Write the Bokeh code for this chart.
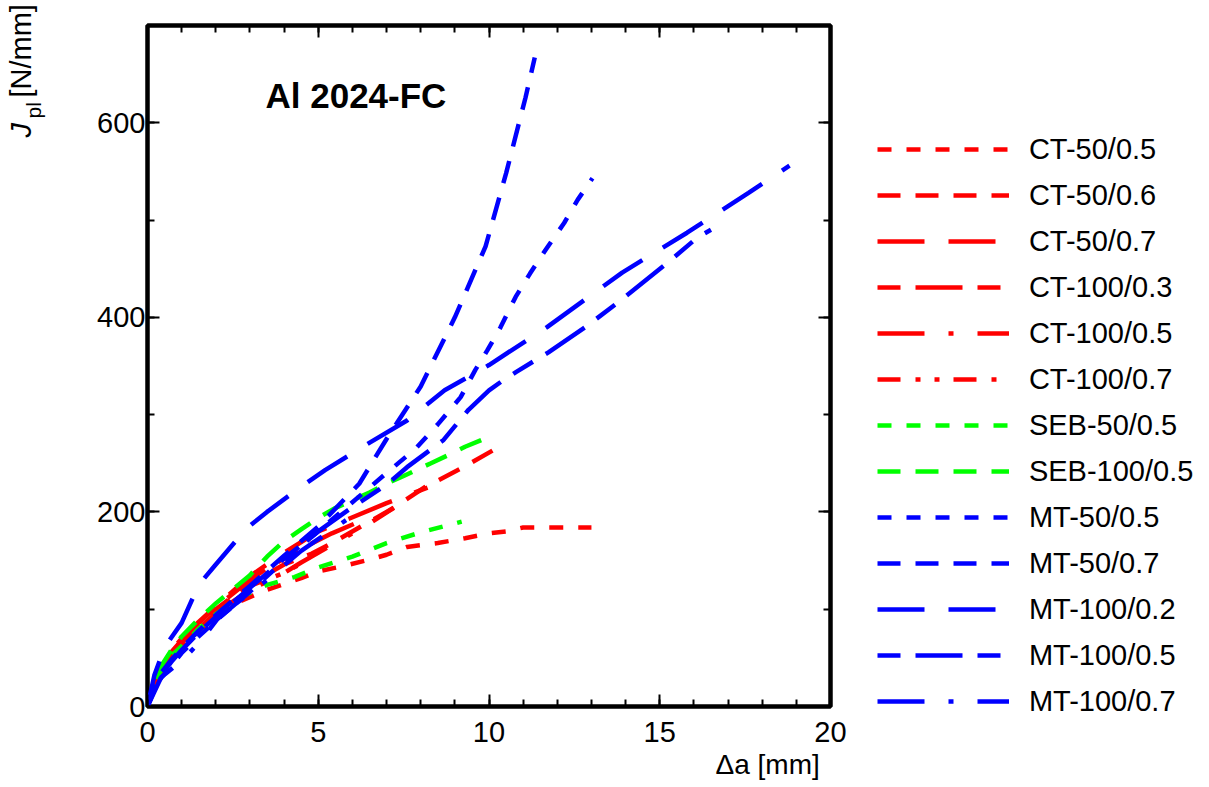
import math
from bokeh.plotting import figure
from bokeh.models import (Range1d, LinearAxis, SingleIntervalTicker, Legend, LegendItem, Label)
from bokeh.embed import file_html
from bokeh.resources import INLINE

# ---------------- data ----------------
ct50_05_x = [0, 0.3, 0.7, 1, 1.5, 2, 2.7, 3.5, 4.5, 5, 5.7, 6.5, 7, 7.6, 8.5, 9.3, 10, 10.5, 11, 13]
ct50_05_y = [0, 30, 50, 60, 78, 92, 108, 120, 132, 139, 144, 151, 156, 164, 168, 173, 178, 180, 184, 184]

ct50_06_x = [0, 0.3, 0.7, 1, 1.5, 2, 3, 4, 4.8, 5.4, 6.2, 7.2, 8.1, 9.2, 10.15]
ct50_06_y = [0, 32, 55, 66, 84, 100, 126, 146, 157, 168, 184, 204, 225, 245, 264]

ct50_07_x = [0, 0.3, 0.7, 1, 1.5, 2, 3, 4, 5, 5.9, 7, 8.2]
ct50_07_y = [0, 35, 57, 70, 87, 103, 134, 158, 180, 193, 209, 225]

ct100_03_x = [0, 0.3, 0.7, 1, 1.5, 2, 3, 3.5, 4.5, 5.4, 6.2]
ct100_03_y = [0, 34, 56, 68, 86, 102, 130, 142, 162, 178, 190]

ct100_05_x = [0, 0.3, 0.7, 1, 1.5, 2, 3, 3.9, 4.5, 5.5, 6.5, 7.2]
ct100_05_y = [0, 30, 52, 63, 80, 96, 120, 135, 148, 168, 188, 204]

ct100_07_x = [0, 0.3, 0.7, 1, 1.5, 2, 3, 3.9, 4.4, 5]
ct100_07_y = [0, 32, 54, 66, 83, 98, 124, 136, 145, 160]

seb50_05_x = [0, 0.3, 0.7, 1, 1.5, 2, 2.7, 3.5, 4.3, 5, 6, 7, 8, 9.2]
seb50_05_y = [0, 32, 52, 62, 80, 95, 112, 125, 133, 143, 154, 168, 179, 190]

seb100_05_x = [0, 0.3, 0.7, 1, 1.5, 2, 3, 3.5, 4, 4.5, 5, 5.5, 6, 6.5, 7, 7.5, 8.3, 8.9, 9.3, 10]
seb100_05_y = [0, 36, 58, 72, 90, 106, 135, 154, 170, 182, 194, 204, 212, 220, 229, 237, 250, 260, 267, 277]

mt50_05_x = [0, 0.3, 0.7, 1, 1.5, 2, 3, 4, 5, 6, 7, 7.85, 8.5, 9.17, 9.6, 9.95, 10.34, 10.78, 11.2, 11.65, 12.2, 12.6, 13.03]
mt50_05_y = [0, 25, 42, 55, 72, 88, 118, 150, 180, 210, 240, 265, 290, 318, 346, 366, 390, 421, 445, 469, 497, 521, 543]

mt50_07_x = [0, 0.3, 0.7, 1, 1.5, 2, 3, 4, 5, 6.2, 7, 8, 9, 9.9, 10.5, 11.07, 11.34]
mt50_07_y = [0, 30, 48, 60, 78, 94, 124, 155, 185, 229, 275, 329, 400, 473, 548, 626, 667]

mt100_02_x = [0, 0.2, 0.5, 1, 1.5, 2, 2.9, 3.5, 4.5, 5.2, 6.4, 7.6, 8.7, 10, 11.7, 13.9, 15.8, 17.6, 18.8]
mt100_02_y = [0, 32, 61, 86, 125, 146, 183, 200, 226, 243, 269, 294, 325, 351, 390, 446, 487, 528, 556]

mt100_05_x = [0, 0.3, 0.7, 1, 1.5, 2, 3, 4, 5, 6, 7, 7.6, 8.67, 9.4, 10, 10.4, 10.8, 11.36, 11.74, 12.9, 13.8, 15.26, 16.1, 16.5]
mt100_05_y = [0, 28, 46, 58, 76, 92, 122, 152, 180, 205, 228, 246, 274, 305, 325, 335, 344, 356, 364, 392, 416, 457, 482, 490]

mt100_07_x = [0, 0.4, 1, 1.5, 2.05, 2.6, 3.5, 3.9, 4.5, 5, 6]
mt100_07_y = [0, 30, 47, 65, 90, 106, 130, 142, 160, 172, 196]

labels = ["CT-50/0.5", "CT-50/0.6", "CT-50/0.7", "CT-100/0.3", "CT-100/0.5", "CT-100/0.7",
          "SEB-50/0.5", "SEB-100/0.5", "MT-50/0.5", "MT-50/0.7", "MT-100/0.2", "MT-100/0.5", "MT-100/0.7"]
xs = [ct50_05_x, ct50_06_x, ct50_07_x, ct100_03_x, ct100_05_x, ct100_07_x,
      seb50_05_x, seb100_05_x, mt50_05_x, mt50_07_x, mt100_02_x, mt100_05_x, mt100_07_x]
ys = [ct50_05_y, ct50_06_y, ct50_07_y, ct100_03_y, ct100_05_y, ct100_07_y,
      seb50_05_y, seb100_05_y, mt50_05_y, mt50_07_y, mt100_02_y, mt100_05_y, mt100_07_y]

# ---------------- styles ----------------
RED, GREEN, BLUE = "#ff0000", "#00ff00", "#0000ff"
colors = [RED] * 6 + [GREEN] * 2 + [BLUE] * 5
dashes = ["14 15", "23 15", "47 24", "23 15 47 15", "47 24 5 24", "23 15 5 14 5 14",
          "14 15", "23 15",
          "14 15", "23 15", "47 24", "23 15 47 15", "47 24 5 24"]

FONT = "Liberation Sans"
FS = "29px"
FW, FH = 683, 681

p = figure(frame_width=FW, frame_height=FH,
           x_range=Range1d(0, 20), y_range=Range1d(0, 700),
           x_axis_type=None, y_axis_type=None,
           output_backend="svg", toolbar_location=None,
           min_border_left=147, min_border_right=370,
           min_border_top=25, min_border_bottom=80)
p.grid.visible = False
p.outline_line_color = "black"
p.outline_line_width = 4.5
p.background_fill_color = "white"
p.border_fill_color = "white"


def make_axis(interval, minor, show_labels, standoff):
    ax = LinearAxis(ticker=SingleIntervalTicker(interval=interval, num_minor_ticks=minor))
    ax.axis_line_color = None
    ax.major_tick_in = 12
    ax.major_tick_out = 0
    ax.minor_tick_in = 7
    ax.minor_tick_out = 0
    ax.major_tick_line_width = 2
    ax.minor_tick_line_width = 2
    ax.major_tick_line_color = "black"
    ax.minor_tick_line_color = "black"
    if show_labels:
        ax.major_label_text_font = FONT
        ax.major_label_text_font_size = FS
        ax.major_label_text_color = "black"
        ax.major_label_standoff = standoff
    else:
        ax.major_label_text_font_size = "1px"
        ax.major_label_text_color = None
        ax.major_label_standoff = 0
    return ax


p.add_layout(make_axis(5, 5, True, 15), "below")
p.add_layout(make_axis(5, 5, False, 0), "above")
p.add_layout(make_axis(200, 2, True, 2), "left")
p.add_layout(make_axis(200, 2, False, 0), "right")

items = []
for lab, x, y, c, d in zip(labels, xs, ys, colors, dashes):
    r = p.line(x, y, line_color=c, line_width=4.5, line_dash=d)
    items.append(LegendItem(label=lab, renderers=[r]))

legend = Legend(items=items, location=(-45, -18),
                glyph_width=132, glyph_height=46, label_height=46,
                label_standoff=20, spacing=0, padding=0, margin=0,
                border_line_color=None, background_fill_alpha=0,
                label_text_font=FONT, label_text_font_size=FS, label_text_color="black")
p.add_layout(legend, "right")


# frame pixel offsets -> data units (x from frame left, y up from frame bottom)
def dx(px):
    return px / FW * 20


def dy(py):
    return py / FH * 700


# title (inside the frame)
p.add_layout(Label(x=dx(118), y=dy(611), text="Al 2024-FC", text_font=FONT,
                   text_font_size="35px", text_font_style="bold", text_color="black",
                   text_align="left", text_baseline="middle"))

# y-axis label: J_pl [N/mm]  (side panels are not clipped)
p.add_layout(Label(x=dx(-127), y=dy(569), text="J", text_font=FONT, text_font_size=FS,
                   text_font_style="italic", text_color="black", angle=math.pi / 2,
                   text_align="left", text_baseline="middle"), "left")
p.add_layout(Label(x=dx(-127), y=dy(609), text="[N/mm]", text_font=FONT, text_font_size=FS,
                   text_color="black", angle=math.pi / 2,
                   text_align="left", text_baseline="middle"), "left")
p.add_layout(Label(x=dx(-114), y=dy(588), text="pl", text_font=FONT, text_font_size="21px",
                   text_color="black", angle=math.pi / 2,
                   text_align="left", text_baseline="middle"), "right")

# x-axis label: Δa [mm]
p.add_layout(Label(x=dx(568), y=dy(-58), text="Δa [mm]", text_font=FONT, text_font_size="28px",
                   text_color="black", text_align="left", text_baseline="middle"), "right")

open("out.html", "w").write(file_html(p, INLINE))
